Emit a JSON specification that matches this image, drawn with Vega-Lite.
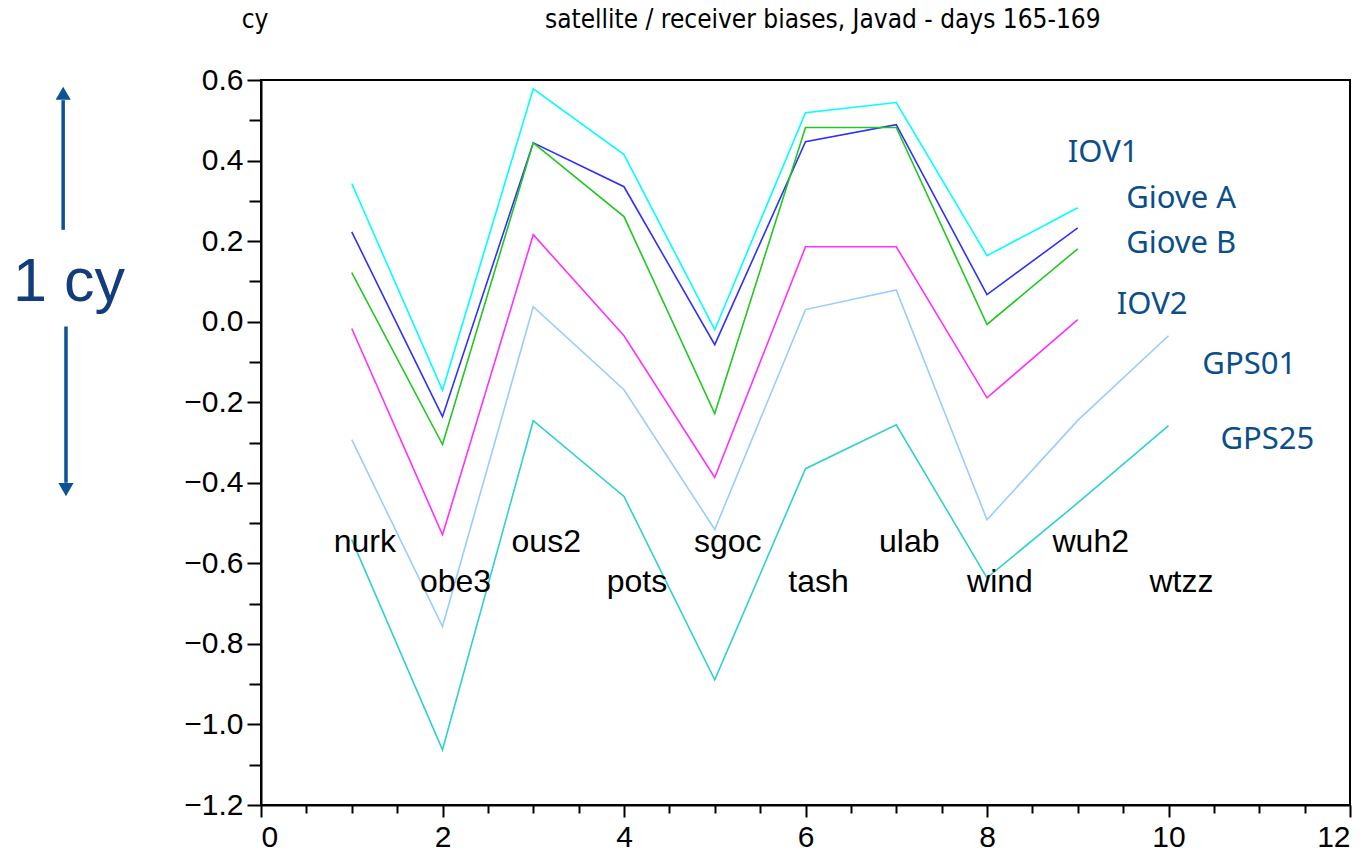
{
  "$schema": "https://vega.github.io/schema/vega-lite/v6.json",
  "width": 1089,
  "height": 725,
  "autosize": {"type": "none"},
  "padding": {"left": 261, "top": 80, "right": 19, "bottom": 49},
  "background": "white",
  "config": {
    "view": {"stroke": "black", "strokeWidth": 2},
    "axis": {
      "grid": false,
      "labelFont": "Liberation Sans",
      "labelFontSize": 30,
      "labelColor": "black",
      "tickColor": "black",
      "tickWidth": 2,
      "domainColor": "black",
      "domainWidth": 2
    }
  },
  "datasets": {
    "series": [
      {"sat": "IOV1", "x": 1, "y": 0.343}, {"sat": "IOV1", "x": 2, "y": -0.17}, {"sat": "IOV1", "x": 3, "y": 0.578}, {"sat": "IOV1", "x": 4, "y": 0.415}, {"sat": "IOV1", "x": 5, "y": -0.02}, {"sat": "IOV1", "x": 6, "y": 0.519}, {"sat": "IOV1", "x": 7, "y": 0.544}, {"sat": "IOV1", "x": 8, "y": 0.164}, {"sat": "IOV1", "x": 9, "y": 0.283},
      {"sat": "Giove A", "x": 1, "y": 0.223}, {"sat": "Giove A", "x": 2, "y": -0.236}, {"sat": "Giove A", "x": 3, "y": 0.444}, {"sat": "Giove A", "x": 4, "y": 0.335}, {"sat": "Giove A", "x": 5, "y": -0.057}, {"sat": "Giove A", "x": 6, "y": 0.447}, {"sat": "Giove A", "x": 7, "y": 0.489}, {"sat": "Giove A", "x": 8, "y": 0.067}, {"sat": "Giove A", "x": 9, "y": 0.233},
      {"sat": "Giove B", "x": 1, "y": 0.122}, {"sat": "Giove B", "x": 2, "y": -0.305}, {"sat": "Giove B", "x": 3, "y": 0.444}, {"sat": "Giove B", "x": 4, "y": 0.261}, {"sat": "Giove B", "x": 5, "y": -0.228}, {"sat": "Giove B", "x": 6, "y": 0.482}, {"sat": "Giove B", "x": 7, "y": 0.482}, {"sat": "Giove B", "x": 8, "y": -0.007}, {"sat": "Giove B", "x": 9, "y": 0.181},
      {"sat": "IOV2", "x": 1, "y": -0.017}, {"sat": "IOV2", "x": 2, "y": -0.529}, {"sat": "IOV2", "x": 3, "y": 0.216}, {"sat": "IOV2", "x": 4, "y": -0.035}, {"sat": "IOV2", "x": 5, "y": -0.387}, {"sat": "IOV2", "x": 6, "y": 0.186}, {"sat": "IOV2", "x": 7, "y": 0.186}, {"sat": "IOV2", "x": 8, "y": -0.189}, {"sat": "IOV2", "x": 9, "y": 0.005},
      {"sat": "GPS01", "x": 1, "y": -0.293}, {"sat": "GPS01", "x": 2, "y": -0.757}, {"sat": "GPS01", "x": 3, "y": 0.037}, {"sat": "GPS01", "x": 4, "y": -0.169}, {"sat": "GPS01", "x": 5, "y": -0.516}, {"sat": "GPS01", "x": 6, "y": 0.03}, {"sat": "GPS01", "x": 7, "y": 0.079}, {"sat": "GPS01", "x": 8, "y": -0.492}, {"sat": "GPS01", "x": 9, "y": -0.245}, {"sat": "GPS01", "x": 10, "y": -0.035},
      {"sat": "GPS25", "x": 1, "y": -0.541}, {"sat": "GPS25", "x": 2, "y": -1.063}, {"sat": "GPS25", "x": 3, "y": -0.246}, {"sat": "GPS25", "x": 4, "y": -0.434}, {"sat": "GPS25", "x": 5, "y": -0.889}, {"sat": "GPS25", "x": 6, "y": -0.365}, {"sat": "GPS25", "x": 7, "y": -0.256}, {"sat": "GPS25", "x": 8, "y": -0.636}, {"sat": "GPS25", "x": 9, "y": -0.45}, {"sat": "GPS25", "x": 10, "y": -0.258}
    ],
    "stations": [
      {"st": "nurk", "x": 1, "y": -0.573}, {"st": "obe3", "x": 2, "y": -0.67},
      {"st": "ous2", "x": 3, "y": -0.573}, {"st": "pots", "x": 4, "y": -0.67},
      {"st": "sgoc", "x": 5, "y": -0.573}, {"st": "tash", "x": 6, "y": -0.67},
      {"st": "ulab", "x": 7, "y": -0.573}, {"st": "wind", "x": 8, "y": -0.67},
      {"st": "wuh2", "x": 9, "y": -0.573}, {"st": "wtzz", "x": 10, "y": -0.67}
    ],
    "satlabels": [
      {"lab": "IOV1", "x": 9.28, "y": 0.418},
      {"lab": "Giove A", "x": 10.14, "y": 0.304},
      {"lab": "Giove B", "x": 10.14, "y": 0.192},
      {"lab": "IOV2", "x": 9.82, "y": 0.042},
      {"lab": "GPS01", "x": 10.89, "y": -0.107},
      {"lab": "GPS25", "x": 11.09, "y": -0.293}
    ],
    "arrowlines": [
      {"x": -2.18, "y": 0.228, "y2": 0.55},
      {"x": -2.149, "y": -0.012, "y2": -0.4}
    ],
    "arrowheads": [
      {"x": -2.18, "y": 0.567, "dir": "up"},
      {"x": -2.149, "y": -0.417, "dir": "down"}
    ],
    "cylabel": [
      {"t": "1 cy", "x": -2.116, "y": 0.052}
    ],
    "toptexts": [
      {"t": "cy", "x": -0.066, "y": 0.73},
      {"t": "satellite / receiver biases, Javad - days 165-169", "x": 6.19, "y": 0.73}
    ]
  },
  "resolve": {"axis": {"x": "independent", "y": "independent"}},
  "layer": [
    {
      "data": {"name": "series"},
      "mark": {"type": "line", "strokeWidth": 1.6, "clip": false},
      "encoding": {
        "x": {
          "field": "x", "type": "quantitative",
          "scale": {"domain": [0, 12], "nice": false, "zero": false},
          "axis": {"orient": "bottom", "values": [0, 2, 4, 6, 8, 10, 12], "format": "d", "tickSize": 12, "labelPadding": 5, "title": null}
        },
        "y": {
          "field": "y", "type": "quantitative",
          "scale": {"domain": [-1.2, 0.6], "nice": false, "zero": false},
          "axis": {
            "orient": "left",
            "values": [-1.2, -1.0, -0.8, -0.6, -0.4, -0.2, 0.0, 0.2, 0.4, 0.6],
            "format": ".1f", "tickSize": 14, "labelPadding": 4, "title": null
          }
        },
        "color": {
          "field": "sat", "type": "nominal",
          "scale": {
            "domain": ["IOV1", "Giove A", "Giove B", "IOV2", "GPS01", "GPS25"],
            "range": ["#00ffff", "#3030ff", "#20c820", "#ff30ff", "#99ccff", "#30d0d0"]
          },
          "legend": null
        }
      }
    },
    {
      "data": {"name": "stations"},
      "mark": {"type": "text", "font": "Liberation Sans", "fontSize": 32, "color": "black", "align": "center", "baseline": "alphabetic", "dx": 13, "clip": false},
      "encoding": {
        "x": {
          "field": "x", "type": "quantitative",
          "axis": {"orient": "bottom", "values": [0.5, 1, 1.5, 2.5, 3, 3.5, 4.5, 5, 5.5, 6.5, 7, 7.5, 8.5, 9, 9.5, 10.5, 11, 11.5], "labels": false, "domain": false, "tickSize": 8, "title": null}
        },
        "y": {
          "field": "y", "type": "quantitative",
          "axis": {"orient": "left", "values": [-1.1, -0.9, -0.7, -0.5, -0.3, -0.1, 0.1, 0.3, 0.5], "labels": false, "domain": false, "tickSize": 12, "title": null}
        },
        "text": {"field": "st"}
      }
    },
    {
      "data": {"name": "satlabels"},
      "mark": {"type": "text", "font": "Noto Sans", "fontSize": 31, "color": "#0b4f8a", "align": "center", "baseline": "middle", "clip": false},
      "encoding": {
        "x": {"field": "x", "type": "quantitative", "axis": null},
        "y": {"field": "y", "type": "quantitative", "axis": null},
        "text": {"field": "lab"}
      }
    },
    {
      "data": {"name": "arrowlines"},
      "mark": {"type": "rule", "color": "#0b5394", "strokeWidth": 3.5, "clip": false},
      "encoding": {
        "x": {"field": "x", "type": "quantitative", "axis": null},
        "y": {"field": "y", "type": "quantitative", "axis": null},
        "y2": {"field": "y2"}
      }
    },
    {
      "data": {"name": "arrowheads"},
      "mark": {"type": "point", "filled": true, "color": "#0b5394", "opacity": 1, "size": 230, "clip": false},
      "encoding": {
        "x": {"field": "x", "type": "quantitative", "axis": null},
        "y": {"field": "y", "type": "quantitative", "axis": null},
        "shape": {
          "field": "dir", "type": "nominal",
          "scale": {"domain": ["up", "down"], "range": ["triangle-up", "triangle-down"]},
          "legend": null
        }
      }
    },
    {
      "data": {"name": "cylabel"},
      "mark": {"type": "text", "font": "Liberation Sans", "fontSize": 61, "color": "#123c7c", "align": "center", "baseline": "alphabetic", "clip": false},
      "encoding": {
        "x": {"field": "x", "type": "quantitative", "axis": null},
        "y": {"field": "y", "type": "quantitative", "axis": null},
        "text": {"field": "t"}
      }
    },
    {
      "data": {"name": "toptexts"},
      "mark": {"type": "text", "font": "Liberation Sans Narrow, DejaVu Sans Condensed, sans-serif", "fontSize": 26, "color": "black", "align": "center", "baseline": "alphabetic", "clip": false},
      "encoding": {
        "x": {"field": "x", "type": "quantitative", "axis": null},
        "y": {"field": "y", "type": "quantitative", "axis": null},
        "text": {"field": "t"}
      }
    }
  ]
}
